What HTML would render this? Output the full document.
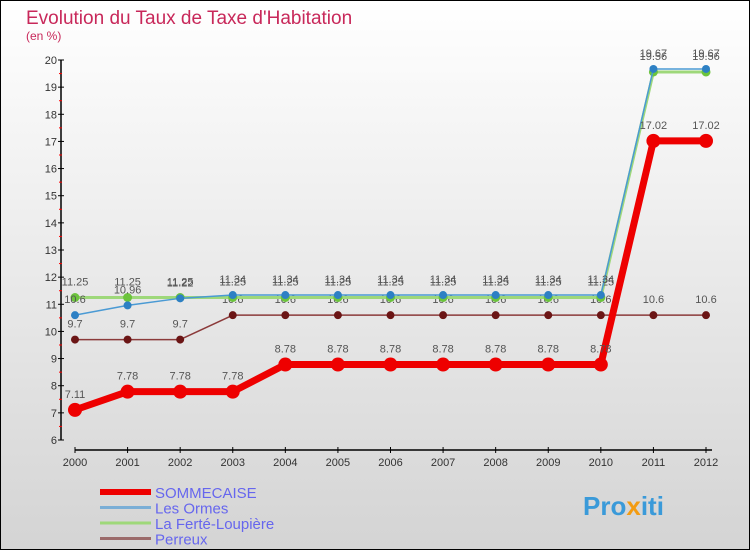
<!DOCTYPE html>
<html><head><meta charset="utf-8"><style>
html,body{margin:0;padding:0}
body{width:750px;height:550px;overflow:hidden}
svg{display:block;font-family:"Liberation Sans",sans-serif}
</style></head><body>
<svg id="c" width="750" height="550">
<defs><linearGradient id="bg" x1="0" y1="0" x2="0" y2="1"><stop offset="0" stop-color="#ffffff"/><stop offset="1" stop-color="#d4d4d4"/></linearGradient></defs>
<rect x="0.5" y="0.5" width="749" height="549" fill="url(#bg)" stroke="#000"/>
<text x="26" y="24" font-size="19" fill="#c8285a">Evolution du Taux de Taxe d'Habitation</text>
<text x="26" y="40" font-size="12" fill="#c8285a">(en %)</text>
<g id="axes"></g>
<g id="series"></g>
<g id="legend"></g>
<text x="583" y="515" font-size="26" font-weight="bold" fill="#3a9ad9">Pro<tspan fill="#f39c12">x</tspan>iti</text>
</svg>
<script>
const years=[2000,2001,2002,2003,2004,2005,2006,2007,2008,2009,2010,2011,2012];
const yTicks=[6,7,8,9,10,11,12,13,14,15,16,17,18,19,20];
const sommecaise=[7.11,7.78,7.78,7.78,8.78,8.78,8.78,8.78,8.78,8.78,8.78,17.02,17.02];
const lesOrmes=[10.6,10.96,11.22,11.34,11.34,11.34,11.34,11.34,11.34,11.34,11.34,19.67,19.67];
const laFerte=[11.25,11.25,11.25,11.25,11.25,11.25,11.25,11.25,11.25,11.25,11.25,19.56,19.56];
const perreux=[9.7,9.7,9.7,10.6,10.6,10.6,10.6,10.6,10.6,10.6,10.6,10.6,10.6];
const NS='http://www.w3.org/2000/svg';
const X=i=>75+i*(706-75)/12;
const Y=v=>440-(v-6)*(380/14);
function mk(tag,attrs,parent){const e=document.createElementNS(NS,tag);for(const k in attrs)e.setAttribute(k,attrs[k]);parent.appendChild(e);return e;}
const ax=document.getElementById('axes');
let e=mk('line',{x1:61,y1:60,x2:61,y2:440,stroke:'#000','stroke-width':1.5},ax);


e=mk('line',{x1:75,y1:450,x2:712,y2:450,stroke:'#000','stroke-width':1.5},ax);


yTicks.forEach(t=>{
  mk('line',{x1:58,y1:Y(t),x2:64,y2:Y(t),stroke:'#000'},ax);
  if(t<20) mk('line',{x1:59,y1:Y(t+0.5),x2:62,y2:Y(t+0.5),stroke:'#f00'},ax);
  const tx=mk('text',{x:57,y:Y(t)+4,'font-size':11,fill:'#333','text-anchor':'end'},ax);
  tx.textContent=t;
  
  
});
years.forEach((y,i)=>{
  mk('line',{x1:X(i),y1:447,x2:X(i),y2:453,stroke:'#000'},ax);
  const tx=mk('text',{x:X(i),y:466,'font-size':11,fill:'#333','text-anchor':'middle'},ax);
  tx.textContent=y;
  
  
});
const sg=document.getElementById('series');
function series(vals,color,w,r,dot,name){
  const g=mk('g',{},sg);
  
  
  mk('polyline',{points:vals.map((v,i)=>X(i)+','+Y(v)).join(' '),fill:'none',stroke:color,'stroke-width':w,'stroke-linejoin':'round'},g);
  vals.forEach((v,i)=>{
    const c=mk('circle',{cx:X(i),cy:Y(v),r:r,fill:dot},g);
    
    
    const t=mk('text',{x:X(i),y:Y(v)-12,'font-size':11,fill:'#555','text-anchor':'middle'},g);
    t.textContent=v;
  });
}
series(perreux,'#8b3a3a',1.5,4,'#6b1515','series-perreux');
series(laFerte,'#9ed87a',3,4.5,'#6cc43c','series-la-ferte-loupiere');
series(lesOrmes,'#4a9ad4',1.5,4,'#2d80c4','series-les-ormes');
series(sommecaise,'#ee0000',7,7,'#ee0000','series-sommecaise');
const lg=document.getElementById('legend');
const leg=[['SOMMECAISE','#ee0000',6],['Les Ormes','#7aaed6',3],['La Ferté-Loupière','#9ed87a',3],['Perreux','#9b6b6b',3]];
leg.forEach((l,i)=>{
  const y=492+i*15.5;
  const g=mk('g',{},lg);
  
  
  mk('line',{x1:100,y1:y,x2:151,y2:y,stroke:l[1],'stroke-width':l[2]},g);
  const t=mk('text',{x:155,y:y+6,'font-size':15,fill:'#6666ee'},g);
  t.textContent=l[0];
});
</script>
</body></html>
